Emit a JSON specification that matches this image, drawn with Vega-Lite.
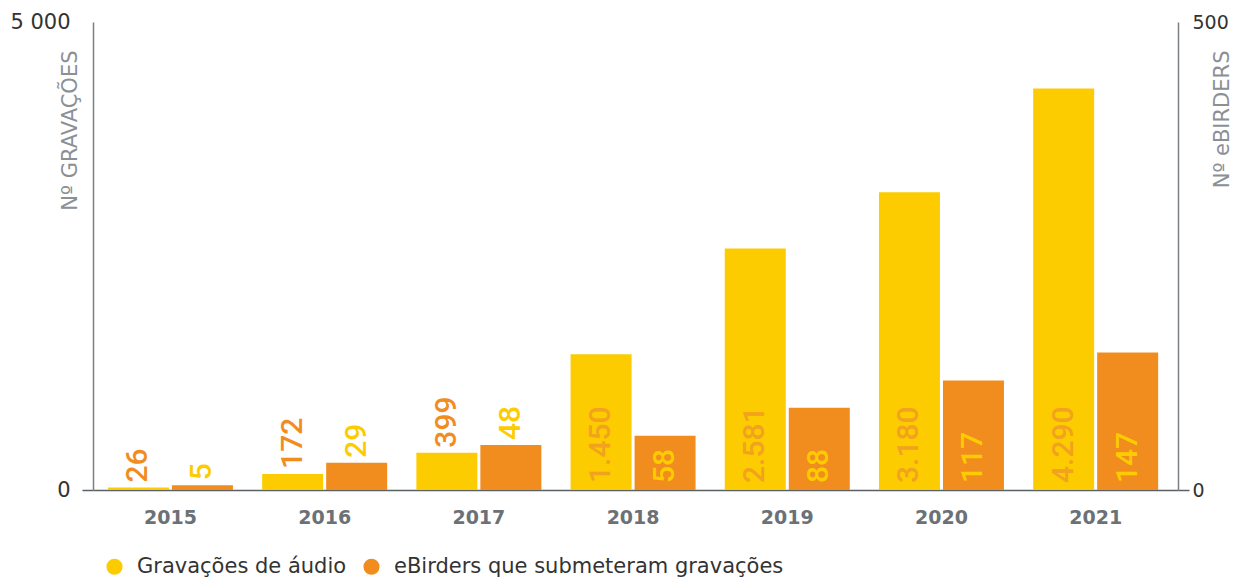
{
  "$schema": "https://vega.github.io/schema/vega-lite/v6.json",
  "width": 1085,
  "height": 468,
  "autosize": {"type": "none"},
  "padding": {"left": 93, "top": 22, "right": 56, "bottom": 88},
  "background": "white",
  "config": {
    "view": {"stroke": null},
    "locale": {"number": {"decimal": ",", "thousands": ".", "grouping": [3], "currency": ["", " €"]}}
  },
  "data": {
    "values": [
      {"ano": "2015", "serie": "Gravações de áudio", "valor": 26},
      {"ano": "2015", "serie": "eBirders que submeteram gravações", "valor": 5},
      {"ano": "2016", "serie": "Gravações de áudio", "valor": 172},
      {"ano": "2016", "serie": "eBirders que submeteram gravações", "valor": 29},
      {"ano": "2017", "serie": "Gravações de áudio", "valor": 399},
      {"ano": "2017", "serie": "eBirders que submeteram gravações", "valor": 48},
      {"ano": "2018", "serie": "Gravações de áudio", "valor": 1450},
      {"ano": "2018", "serie": "eBirders que submeteram gravações", "valor": 58},
      {"ano": "2019", "serie": "Gravações de áudio", "valor": 2581},
      {"ano": "2019", "serie": "eBirders que submeteram gravações", "valor": 88},
      {"ano": "2020", "serie": "Gravações de áudio", "valor": 3180},
      {"ano": "2020", "serie": "eBirders que submeteram gravações", "valor": 117},
      {"ano": "2021", "serie": "Gravações de áudio", "valor": 4290},
      {"ano": "2021", "serie": "eBirders que submeteram gravações", "valor": 147}
    ]
  },
  "encoding": {
    "x": {
      "field": "ano",
      "type": "nominal",
      "scale": {"paddingInner": 0.1894, "paddingOuter": 0.1128, "align": 0.43},
      "axis": {
        "title": null,
        "labelAngle": 0,
        "labelFont": "DejaVu Sans",
        "labelFontWeight": "bold",
        "labelFontSize": 19,
        "labelColor": "#6b7176",
        "labelPadding": 18,
        "ticks": false,
        "domainColor": "#5b6064",
        "domainWidth": 1.5
      }
    },
    "xOffset": {
      "field": "serie",
      "type": "nominal",
      "scale": {"domain": ["Gravações de áudio", "eBirders que submeteram gravações"], "paddingInner": 0.047}
    }
  },
  "layer": [
    {
      "transform": [{"filter": "datum.serie === 'Gravações de áudio'"}],
      "encoding": {
        "y": {
          "field": "valor",
          "type": "quantitative",
          "scale": {"domain": [0, 5000]},
          "axis": {
            "orient": "left",
            "values": [0, 5000],
            "grid": false,
            "title": "Nº GRAVAÇÕES",
            "titleAngle": 270,
            "titleX": -23,
            "titleY": 28,
            "titleAlign": "right",
            "titleBaseline": "middle",
            "titleFont": "DejaVu Sans",
            "titleFontSize": 21,
            "titleFontWeight": "normal",
            "titleColor": "#8b9095",
            "labelExpr": "replace(datum.label, '.', ' ')",
            "labelFont": "DejaVu Sans",
            "labelFontSize": 21,
            "labelColor": "#333333",
            "labelPadding": 12,
            "domainColor": "#7a7f83",
            "domainWidth": 1.5,
            "ticks": true,
            "tickSize": 11,
            "tickWidth": 1.5,
            "tickColor": "#5b6064",
            "tickOpacity": {"condition": {"test": "datum.value === 0", "value": 1}, "value": 0}
          }
        }
      },
      "layer": [
        {
          "mark": {"type": "bar"},
          "encoding": {
            "color": {
              "field": "serie",
              "type": "nominal",
              "scale": {
                "domain": ["Gravações de áudio", "eBirders que submeteram gravações"],
                "range": ["#FDCC00", "#F18D1F"]
              },
              "legend": {
                "orient": "none",
                "direction": "horizontal",
                "legendX": 11,
                "legendY": 534,
                "title": null,
                "symbolType": "circle",
                "symbolSize": 260,
                "symbolOpacity": 1,
                "symbolStrokeWidth": 0,
                "labelFont": "DejaVu Sans",
                "labelFontSize": 21,
                "labelColor": "#333333",
                "labelOffset": 12,
                "columnPadding": 14,
                "labelLimit": 500
              }
            }
          }
        },
        {
          "transform": [{"filter": "toNumber(datum.ano) < 2018"}],
          "mark": {"type": "text", "angle": 270, "align": "left", "baseline": "middle", "dx": 5, "font": "Roboto", "fontSize": 30, "fontWeight": 500, "color": "#F18D1F"},
          "encoding": {"text": {"field": "valor", "type": "quantitative", "format": ","}}
        },
        {
          "transform": [{"filter": "toNumber(datum.ano) >= 2018"}],
          "mark": {"type": "text", "angle": 270, "align": "left", "baseline": "middle", "dx": 7, "font": "Roboto", "fontSize": 30, "fontWeight": 500, "color": "#F2A21E"},
          "encoding": {
            "y": {"datum": 0, "type": "quantitative"},
            "text": {"field": "valor", "type": "quantitative", "format": ","}
          }
        }
      ]
    },
    {
      "transform": [{"filter": "datum.serie === 'eBirders que submeteram gravações'"}],
      "encoding": {
        "y": {
          "field": "valor",
          "type": "quantitative",
          "scale": {"domain": [0, 500]},
          "axis": {
            "orient": "right",
            "values": [0, 500],
            "grid": false,
            "title": "Nº eBIRDERS",
            "titleAngle": 270,
            "titleX": 44,
            "titleY": 28,
            "titleAlign": "right",
            "titleBaseline": "middle",
            "titleFont": "DejaVu Sans",
            "titleFontSize": 21,
            "titleFontWeight": "normal",
            "titleColor": "#8b9095",
            "labelFont": "DejaVu Sans",
            "labelFontSize": 19,
            "labelColor": "#333333",
            "labelPadding": 3,
            "domainColor": "#7a7f83",
            "domainWidth": 1.5,
            "ticks": true,
            "tickSize": 11,
            "tickWidth": 1.5,
            "tickColor": "#5b6064",
            "tickOpacity": {"condition": {"test": "datum.value === 0", "value": 1}, "value": 0}
          }
        }
      },
      "layer": [
        {
          "mark": {"type": "bar"},
          "encoding": {"color": {"field": "serie", "type": "nominal"}}
        },
        {
          "transform": [{"filter": "toNumber(datum.ano) < 2018"}],
          "mark": {"type": "text", "angle": 270, "align": "left", "baseline": "middle", "dx": 5, "font": "Roboto", "fontSize": 30, "fontWeight": 500, "color": "#FDCC00"},
          "encoding": {"text": {"field": "valor", "type": "quantitative", "format": ","}}
        },
        {
          "transform": [{"filter": "toNumber(datum.ano) >= 2018"}],
          "mark": {"type": "text", "angle": 270, "align": "left", "baseline": "middle", "dx": 7, "font": "Roboto", "fontSize": 30, "fontWeight": 500, "color": "#FDCC00"},
          "encoding": {
            "y": {"datum": 0, "type": "quantitative"},
            "text": {"field": "valor", "type": "quantitative", "format": ","}
          }
        }
      ]
    }
  ],
  "resolve": {"scale": {"y": "independent"}, "axis": {"y": "independent"}}
}
